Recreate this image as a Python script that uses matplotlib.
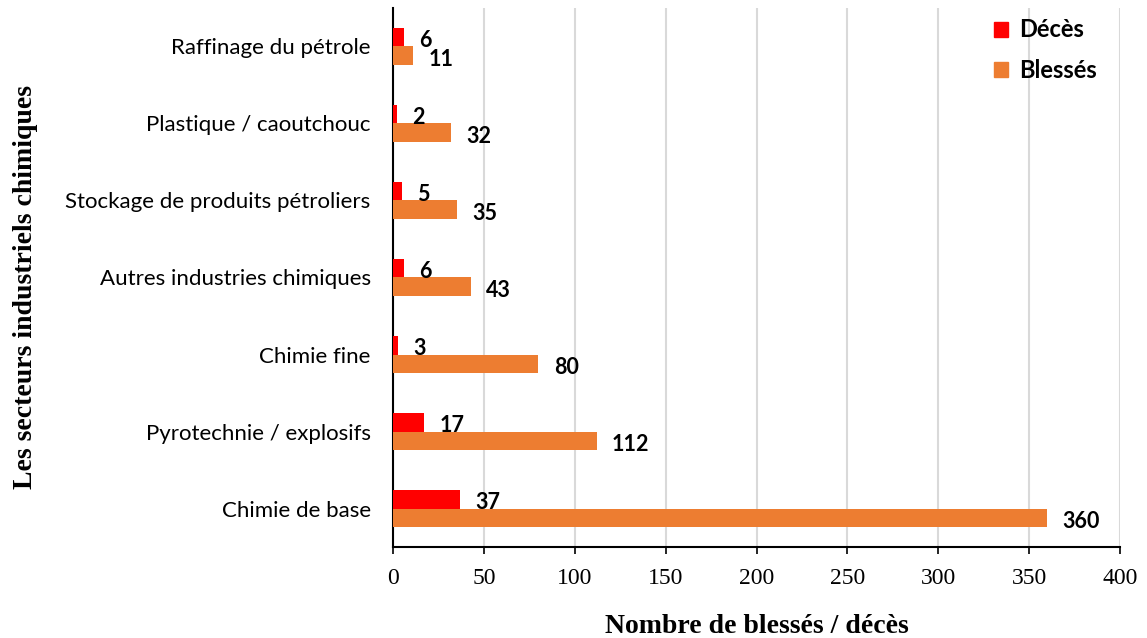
import numpy as np
import matplotlib
matplotlib.use("Agg")
import matplotlib.pyplot as plt
from matplotlib.patches import Patch

# données (de bas en haut)
secteurs = ["Chimie de base", "Pyrotechnie / explosifs", "Chimie fine",
            "Autres industries chimiques", "Stockage de produits pétroliers",
            "Plastique / caoutchouc", "Raffinage du pétrole"]
deces = [37, 17, 3, 6, 5, 2, 6]
blesses = [360, 112, 80, 43, 35, 32, 11]
x_ticks = [0, 50, 100, 150, 200, 250, 300, 350, 400]

c_deces = "#ff0000"
c_blesses = "#ed7d31"
sans = ["Lato", "Open Sans", "DejaVu Sans"]
serif = ["Liberation Serif", "DejaVu Serif"]

fig = plt.figure(figsize=(11.47, 6.38), dpi=100)
ax = fig.add_axes([0.3426, 0.1426, 0.9765 - 0.3426, 0.9875 - 0.1426])

y = np.arange(len(secteurs))
h = 0.24
ax.barh(y + h / 2, deces, height=h, color=c_deces, label="Décès", zorder=3)
ax.barh(y - h / 2, blesses, height=h, color=c_blesses, label="Blessés", zorder=3)

for yi, d, b in zip(y, deces, blesses):
    ax.annotate(f"{d}", (d, yi + h / 2), xytext=(11, -2.5), textcoords="offset points",
                ha="left", va="center", fontsize=15.5, fontweight="bold", family=sans)
    ax.annotate(f"{b}", (b, yi - h / 2), xytext=(11, -2.8), textcoords="offset points",
                ha="left", va="center", fontsize=15.5, fontweight="bold", family=sans)

ax.set_xlim(0, 400)
ax.set_ylim(-0.5, len(secteurs) - 0.5)
ax.set_xticks(x_ticks)
ax.set_xticklabels([str(t) for t in x_ticks], family=serif, fontsize=17)
ax.set_yticks(y)
ax.set_yticklabels(secteurs, family=sans, fontsize=16)
ax.tick_params(axis="y", length=0, pad=16)
ax.tick_params(axis="x", length=5, width=1.2, direction="out", pad=10)

ax.grid(axis="x", color="#d9d9d9", linewidth=1.5, zorder=0)
for s in ["top", "right"]:
    ax.spines[s].set_visible(False)
ax.spines["left"].set_linewidth(1.5)
ax.spines["bottom"].set_linewidth(1.5)

ax.set_xlabel("Nombre de blessés / décès", family=serif, fontsize=20,
              fontweight="bold", labelpad=18)
fig.text(0.022, 0.55, "Les secteurs industriels chimiques", rotation=90,
         family=serif, fontsize=20, fontweight="bold", ha="center", va="center")

handles = [Patch(color=c_deces, label="Décès"), Patch(color=c_blesses, label="Blessés")]
leg = ax.legend(handles=handles, loc="upper right", bbox_to_anchor=(0.997, 1.02),
                frameon=False, prop={"family": sans, "size": 17, "weight": "bold"},
                handlelength=0.6, handleheight=0.6, handletextpad=0.45, labelspacing=0.75)

fig.savefig("out.png", dpi=100)
